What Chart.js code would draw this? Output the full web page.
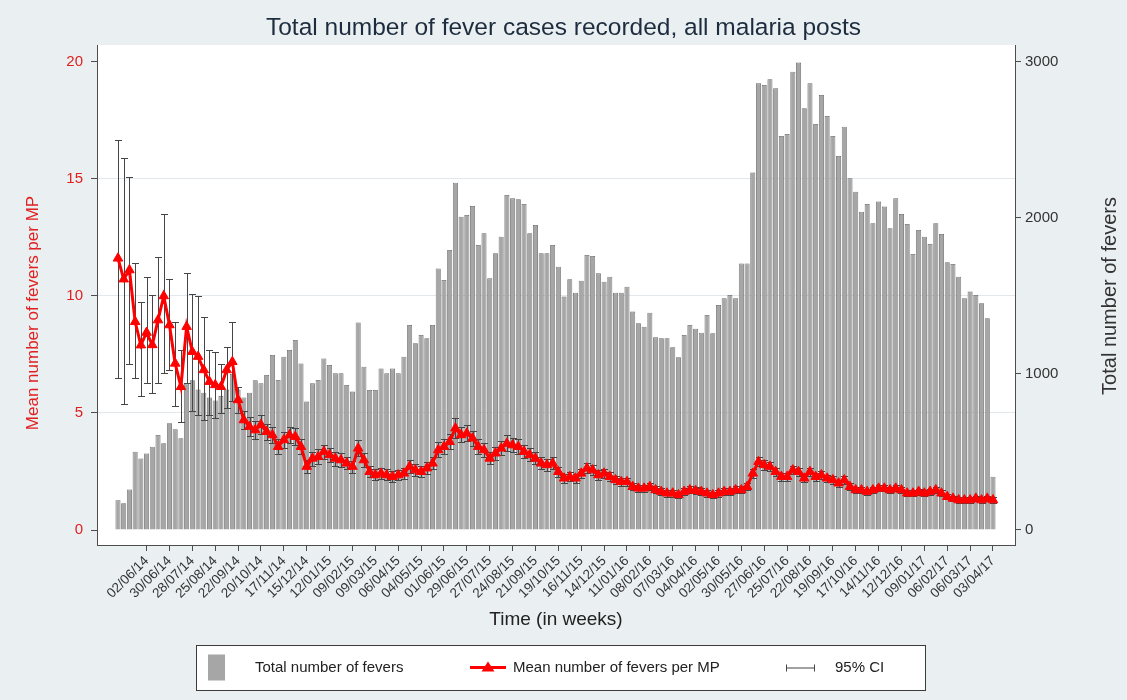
<!DOCTYPE html>
<html>
<head>
<meta charset="utf-8">
<title>Total number of fever cases recorded, all malaria posts</title>
<script src="https://cdn.jsdelivr.net/npm/chart.js@4.4.1/dist/chart.umd.min.js"></script>
<style>
  html, body { margin: 0; padding: 0; background: #eaeff2; }
  #wrap { width: 1127px; height: 700px; }
  canvas { display: block; }
</style>
</head>
<body>
<div id="wrap"><canvas id="chart" width="1127" height="700"></canvas></div>
<script>
// Weekly totals of fevers recorded across all malaria posts (right axis)
const totalFevers = [
  190, 172, 260, 502, 459, 491, 534, 609, 556, 684,
  645, 588, 940, 960, 900, 880, 850, 830, 860, 900,
  1000, 900, 850, 880, 960, 940, 994, 1122, 962, 1111,
  1154, 1218, 1068, 823, 940, 962, 1100, 1058, 1004, 1004,
  929, 887, 1330, 1047, 897, 897, 1036, 1004, 1036, 1004,
  1111, 1314, 1197, 1250, 1229, 1314, 1677, 1603, 1795, 2226,
  2008, 2019, 2077, 1827, 1902, 1613, 1774, 1880, 2147, 2126,
  2120, 2090, 1902, 1955, 1774, 1774, 1827, 1688, 1496, 1607,
  1521, 1598, 1763, 1756, 1645, 1592, 1624, 1521, 1521, 1560,
  1400, 1325, 1303, 1393, 1235, 1229, 1229, 1171, 1107, 1250,
  1314, 1290, 1265, 1378, 1261, 1442, 1485, 1506, 1485, 1709,
  1709, 2291, 2863, 2853, 2889, 2831, 2526, 2538, 2938, 2996,
  2703, 2863, 2603, 2788, 2654, 2526, 2397, 2585, 2254, 2169,
  2040, 2090, 1966, 2105, 2073, 1934, 2126, 2026, 1962, 1769,
  1923, 1880, 1833, 1966, 1897, 1716, 1705, 1624, 1485, 1528,
  1506, 1453, 1357, 342
];

// Mean number of fevers per malaria post (left axis)
const meanFevers = [
  11.61, 10.72, 11.11, 8.90, 7.90, 8.44, 7.91, 8.97, 10.00, 8.76,
  7.12, 6.12, 8.69, 7.62, 7.41, 6.84, 6.34, 6.20, 6.12, 6.84,
  7.19, 5.56, 4.70, 4.42, 4.27, 4.50, 4.20, 4.06, 3.56, 3.85,
  4.06, 3.99, 3.56, 2.71, 3.06, 3.13, 3.35, 3.21, 3.06, 2.99,
  2.85, 2.71, 3.49, 2.99, 2.49, 2.35, 2.42, 2.35, 2.28, 2.35,
  2.42, 2.71, 2.56, 2.49, 2.64, 2.85, 3.42, 3.56, 3.77, 4.35,
  4.06, 4.13, 3.92, 3.56, 3.42, 3.06, 3.28, 3.49, 3.70, 3.63,
  3.56, 3.35, 3.21, 3.06, 2.85, 2.78, 2.85, 2.49, 2.21, 2.28,
  2.21, 2.42, 2.64, 2.56, 2.35, 2.42, 2.28, 2.14, 2.06, 2.06,
  1.85, 1.78, 1.78, 1.85, 1.71, 1.64, 1.57, 1.57, 1.50, 1.64,
  1.71, 1.68, 1.64, 1.57, 1.50, 1.57, 1.64, 1.64, 1.71, 1.71,
  1.85, 2.42, 2.92, 2.78, 2.71, 2.49, 2.28, 2.28, 2.56, 2.49,
  2.21, 2.49, 2.28, 2.35, 2.21, 2.14, 2.00, 2.14, 1.85, 1.71,
  1.71, 1.64, 1.71, 1.78, 1.78, 1.71, 1.78, 1.71, 1.57, 1.57,
  1.64, 1.57, 1.64, 1.71, 1.57, 1.42, 1.35, 1.28, 1.28, 1.28,
  1.35, 1.28, 1.35, 1.28
];

// 95% confidence interval of the weekly mean, lower bound
const ciLow = [
  6.50, 5.40, 7.10, 6.50, 5.73, 6.27, 5.84, 6.27, 6.72, 6.84,
  5.30, 4.60, 6.30, 5.10, 4.90, 4.70, 4.90, 4.80, 5.00, 5.20,
  5.50, 5.00, 4.30, 4.00, 3.90, 4.10, 3.85, 3.70, 3.25, 3.50,
  3.70, 3.65, 3.25, 2.45, 2.75, 2.80, 3.05, 2.90, 2.75, 2.70,
  2.60, 2.45, 3.15, 2.70, 2.25, 2.12, 2.18, 2.12, 2.05, 2.12,
  2.20, 2.45, 2.32, 2.25, 2.40, 2.60, 3.10, 3.25, 3.45, 3.95,
  3.75, 3.80, 3.60, 3.25, 3.12, 2.80, 3.00, 3.20, 3.38, 3.32,
  3.25, 3.06, 2.94, 2.80, 2.60, 2.54, 2.60, 2.28, 2.02, 2.08,
  2.02, 2.22, 2.43, 2.35, 2.15, 2.22, 2.09, 1.96, 1.89, 1.89,
  1.69, 1.63, 1.63, 1.69, 1.56, 1.50, 1.43, 1.43, 1.37, 1.50,
  1.56, 1.54, 1.50, 1.43, 1.37, 1.43, 1.50, 1.50, 1.56, 1.56,
  1.69, 2.24, 2.72, 2.58, 2.52, 2.31, 2.11, 2.11, 2.38, 2.31,
  2.05, 2.31, 2.11, 2.18, 2.05, 1.98, 1.85, 1.98, 1.71, 1.58,
  1.58, 1.51, 1.58, 1.65, 1.65, 1.58, 1.65, 1.58, 1.45, 1.45,
  1.51, 1.45, 1.51, 1.58, 1.45, 1.31, 1.24, 1.17, 1.17, 1.17,
  1.24, 1.17, 1.24, 1.17
];

// 95% confidence interval of the weekly mean, upper bound
const ciHigh = [
  16.65, 15.88, 15.10, 11.42, 9.76, 10.80, 10.04, 11.68, 13.49, 10.71,
  8.90, 7.70, 11.00, 10.10, 10.00, 9.10, 7.70, 7.60, 7.10, 7.80,
  8.90, 6.10, 5.10, 4.85, 4.65, 4.90, 4.55, 4.40, 3.90, 4.20,
  4.40, 4.35, 3.90, 3.00, 3.35, 3.45, 3.65, 3.50, 3.35, 3.30,
  3.10, 2.95, 3.85, 3.30, 2.75, 2.60, 2.66, 2.60, 2.50, 2.58,
  2.66, 2.98, 2.80, 2.72, 2.90, 3.10, 3.75, 3.90, 4.10, 4.80,
  4.40, 4.50, 4.25, 3.88, 3.72, 3.32, 3.56, 3.80, 4.05, 3.95,
  3.88, 3.65, 3.50, 3.33, 3.10, 3.02, 3.10, 2.70, 2.40, 2.48,
  2.40, 2.62, 2.86, 2.77, 2.55, 2.62, 2.47, 2.32, 2.23, 2.23,
  2.01, 1.93, 1.93, 2.01, 1.86, 1.78, 1.71, 1.71, 1.63, 1.78,
  1.86, 1.82, 1.78, 1.71, 1.63, 1.71, 1.78, 1.78, 1.86, 1.86,
  2.01, 2.60, 3.14, 2.98, 2.90, 2.67, 2.45, 2.45, 2.74, 2.67,
  2.37, 2.67, 2.45, 2.52, 2.37, 2.30, 2.15, 2.30, 1.99, 1.84,
  1.84, 1.77, 1.84, 1.91, 1.91, 1.84, 1.91, 1.84, 1.69, 1.69,
  1.77, 1.69, 1.77, 1.84, 1.69, 1.53, 1.46, 1.39, 1.39, 1.39,
  1.46, 1.39, 1.46, 1.39
];

// Labelled weeks on the time axis (every fourth week)
const tickLabels = [
  '02/06/14', '30/06/14', '28/07/14', '25/08/14', '22/09/14', '20/10/14',
  '17/11/14', '15/12/14', '12/01/15', '09/02/15', '09/03/15', '06/04/15',
  '04/05/15', '01/06/15', '29/06/15', '27/07/15', '24/08/15', '21/09/15',
  '19/10/15', '16/11/15', '14/12/15', '11/01/16', '08/02/16', '07/03/16',
  '04/04/16', '02/05/16', '30/05/16', '27/06/16', '25/07/16', '22/08/16',
  '19/09/16', '17/10/16', '14/11/16', '12/12/16', '09/01/17', '06/02/17',
  '06/03/17', '03/04/17'
];

// Left and right axis tick values
const meanTicks = [0, 5, 10, 15, 20];
const totalTicks = [0, 1000, 2000, 3000];

// Legend entries
const legendLabels = ['Total number of fevers', 'Mean number of fevers per MP', '95% CI'];

// First recorded week; one category per week after it
const firstWeek = Date.UTC(2014, 3, 28);
const pad2 = n => String(n).padStart(2, '0');
const weeks = totalFevers.map((_, i) => {
  const d = new Date(firstWeek + i * 7 * 86400000);
  return pad2(d.getUTCDate()) + '/' + pad2(d.getUTCMonth() + 1) + '/' + pad2(d.getUTCFullYear() % 100);
});

const RED = '#ff0000';
const RED_TEXT = '#e0201f';
const AXIS = '#4d4d4d';
const BAR_FILL = '#a6a6a6';
const BAR_EDGE = '#666666';
const CI_COLOR = '#454545';
const FONT = '"Liberation Sans", Arial, Helvetica, sans-serif';

// White plot region behind the data
const plotBackground = {
  id: 'plotBackground',
  beforeDraw(chart) {
    const {ctx, chartArea: a} = chart;
    ctx.save();
    ctx.fillStyle = '#ffffff';
    ctx.fillRect(a.left, a.top, a.right - a.left, a.bottom - a.top);
    ctx.restore();
  }
};

// Capped 95% CI spikes, drawn over the bars and under the mean line
const ciCaps = {
  id: 'ciCaps',
  afterDatasetDraw(chart, args) {
    if (args.meta.type !== 'bar') return;
    const {ctx} = chart;
    const x = chart.scales.x, y = chart.scales.y;
    const half = 3.5;
    ctx.save();
    ctx.strokeStyle = CI_COLOR;
    ctx.lineWidth = 1;
    ctx.beginPath();
    ciLow.forEach((lo, i) => {
      const px = Math.round(x.getPixelForValue(i)) + 0.5;
      const yl = Math.round(y.getPixelForValue(lo)) + 0.5;
      const yh = Math.round(y.getPixelForValue(ciHigh[i])) + 0.5;
      ctx.moveTo(px, yl); ctx.lineTo(px, yh);
      ctx.moveTo(px - half, yl); ctx.lineTo(px + half, yl);
      ctx.moveTo(px - half, yh); ctx.lineTo(px + half, yh);
    });
    ctx.stroke();
    ctx.restore();
  }
};

// Y-axis titles, both reading bottom to top
const axisTitles = {
  id: 'axisTitles',
  afterDraw(chart) {
    const {ctx} = chart;
    const y = chart.scales.y;
    const y1 = chart.scales.y1;
    const draw = (text, x, cy, color, size) => {
      ctx.save();
      ctx.translate(x, cy);
      ctx.rotate(-Math.PI / 2);
      ctx.fillStyle = color;
      ctx.font = size + 'px ' + FONT;
      ctx.textAlign = 'center';
      ctx.textBaseline = 'middle';
      ctx.fillText(text, 0, 0);
      ctx.restore();
    };
    const leftMid = (y.getPixelForValue(0) + y.getPixelForValue(20)) / 2 + 17;
    const rightMid = (y1.getPixelForValue(0) + y1.getPixelForValue(3000)) / 2;
    draw('Mean number of fevers per MP', 33, leftMid, RED_TEXT, 17);
    draw('Total number of fevers', 1110, rightMid, '#333333', 20);
  }
};

// Framed legend row below the time axis
const framedLegend = {
  id: 'framedLegend',
  afterDraw(chart) {
    const {ctx} = chart;
    const box = {left: 196, top: 645, width: 729, height: 45};
    const cy = box.top + box.height / 2;
    ctx.save();
    ctx.fillStyle = '#ffffff';
    ctx.fillRect(box.left, box.top, box.width, box.height);
    ctx.strokeStyle = '#3c3c3c';
    ctx.lineWidth = 1;
    ctx.strokeRect(box.left + 0.5, box.top + 0.5, box.width, box.height);

    // bar swatch
    ctx.fillStyle = BAR_FILL;
    ctx.fillRect(208, cy - 13, 17, 26);

    // line with triangle marker
    ctx.strokeStyle = RED;
    ctx.lineWidth = 3;
    ctx.beginPath();
    ctx.moveTo(470, cy); ctx.lineTo(506, cy);
    ctx.stroke();
    ctx.fillStyle = RED;
    ctx.beginPath();
    ctx.moveTo(488, cy - 6); ctx.lineTo(494.5, cy + 4); ctx.lineTo(481.5, cy + 4);
    ctx.closePath();
    ctx.fill();

    // capped spike
    ctx.strokeStyle = CI_COLOR;
    ctx.lineWidth = 1;
    ctx.beginPath();
    ctx.moveTo(786, cy + 0.5); ctx.lineTo(815, cy + 0.5);
    ctx.moveTo(786.5, cy - 3); ctx.lineTo(786.5, cy + 4);
    ctx.moveTo(814.5, cy - 3); ctx.lineTo(814.5, cy + 4);
    ctx.stroke();

    ctx.fillStyle = '#222222';
    ctx.font = '15px ' + FONT;
    ctx.textAlign = 'left';
    ctx.textBaseline = 'middle';
    ctx.fillText(legendLabels[0], 255, cy);
    ctx.fillText(legendLabels[1], 513, cy);
    ctx.fillText(legendLabels[2], 835, cy);
    ctx.restore();
  }
};

const chart = new Chart(document.getElementById('chart'), {
  data: {
    datasets: [
      {
        type: 'line',
        label: legendLabels[1],
        data: meanFevers.map((v, i) => ({x: i, y: v})),
        yAxisID: 'y',
        borderColor: RED,
        backgroundColor: RED,
        borderWidth: 3,
        pointStyle: 'triangle',
        pointRadius: 5.5,
        pointBackgroundColor: RED,
        pointBorderColor: RED,
        pointBorderWidth: 1,
        tension: 0,
        order: 1
      },
      {
        type: 'bar',
        label: legendLabels[0],
        data: totalFevers.map((v, i) => ({x: i, y: v})),
        yAxisID: 'y1',
        backgroundColor: BAR_FILL,
        borderColor: BAR_EDGE,
        borderWidth: 0.8,
        barPercentage: 0.88,
        categoryPercentage: 1.0,
        order: 2
      }
    ]
  },
  options: {
    responsive: false,
    animation: false,
    devicePixelRatio: 1,
    layout: {padding: 0, autoPadding: false},
    plugins: {
      legend: {display: false},
      tooltip: {enabled: false},
      title: {
        display: true,
        text: 'Total number of fever cases recorded, all malaria posts',
        color: '#1d2d3e',
        font: {family: FONT, size: 24.5, weight: 'normal'},
        padding: {top: 13.3, bottom: 2.3}
      }
    },
    scales: {
      x: {
        type: 'linear',
        position: 'bottom',
        offset: false,
        min: -3.67,
        max: 156.85,
        afterBuildTicks(scale) {
          scale.ticks = tickLabels.map(l => ({value: weeks.indexOf(l)}));
        },
        afterFit(scale) { scale.height = 155; },
        ticks: {
          autoSkip: false,
          minRotation: 45,
          maxRotation: 45,
          padding: 2,
          color: '#333333',
          font: {family: FONT, size: 13.5},
          callback: v => weeks[v]
        },
        grid: {offset: false, drawOnChartArea: false, tickLength: 6, tickColor: AXIS},
        border: {display: true, color: AXIS, width: 1},
        title: {
          display: true,
          text: 'Time (in weeks)',
          color: '#222222',
          font: {family: FONT, size: 19},
          padding: {bottom: 69}
        }
      },
      y: {
        type: 'linear',
        position: 'left',
        min: -0.641,
        max: 20.726,
        afterBuildTicks(scale) { scale.ticks = meanTicks.map(v => ({value: v})); },
        afterFit(scale) { scale.width = 97; },
        ticks: {color: RED_TEXT, font: {family: FONT, size: 15}, padding: 8},
        grid: {
          color: c => (c.tick && (c.tick.value === 0 || c.tick.value === 20)) ? 'rgba(0,0,0,0)' : '#e1e7eb',
          lineWidth: 1,
          tickLength: 6,
          tickColor: AXIS
        },
        border: {display: true, color: AXIS, width: 1}
      },
      y1: {
        type: 'linear',
        position: 'right',
        min: -96.2,
        max: 3108.9,
        afterBuildTicks(scale) { scale.ticks = totalTicks.map(v => ({value: v})); },
        afterFit(scale) { scale.width = 112; },
        ticks: {
          color: '#333333',
          font: {family: FONT, size: 15},
          padding: 4,
          callback: v => String(v)
        },
        grid: {drawOnChartArea: false, tickLength: 6, tickColor: AXIS},
        border: {display: true, color: AXIS, width: 1}
      }
    }
  },
  plugins: [plotBackground, ciCaps, axisTitles, framedLegend]
});
</script>
</body>
</html>
